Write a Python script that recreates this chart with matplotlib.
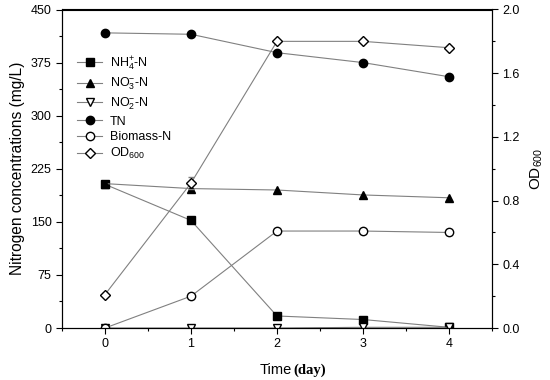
import matplotlib
matplotlib.use('Agg')
import matplotlib.pyplot as plt
from matplotlib.ticker import MultipleLocator
import numpy as np

plt.rcParams['font.family'] = ['Liberation Sans', 'DejaVu Sans']
plt.rcParams['mathtext.fontset'] = 'custom'
plt.rcParams['mathtext.rm'] = 'Liberation Sans'

# data
days = [0, 1, 2, 3, 4]
nh4 = [203, 152, 17, 12, 1]
no3 = [204, 197, 195, 188, 184]
no2 = [0, 0, 0, 1, 1]
tn = [417, 415, 389, 375, 355]
biomass = [0, 45, 137, 137, 135]
biomass_err = [2, 3, 3, 3, 3]
od600 = [0.21, 0.91, 1.80, 1.80, 1.76]
od600_err = [0.01, 0.04, 0.01, 0.01, 0.01]

line_kw = dict(color='#808080', linewidth=0.8, markeredgecolor='black', markersize=6)

fig = plt.figure(figsize=(5.5, 3.8), dpi=100)
ax = fig.add_axes([0.1127, 0.1368, 0.7818, 0.8382])
ax2 = ax.twinx()

h1, = ax.plot(days, nh4, marker='s', markerfacecolor='black', label=r'NH$_4^{+}$-N', **line_kw)
h2, = ax.plot(days, no3, marker='^', markerfacecolor='black', label=r'NO$_3^{-}$-N', **line_kw)
h3, = ax.plot(days, no2, marker='v', markerfacecolor='white', label=r'NO$_2^{-}$-N', **line_kw)
h4, = ax.plot(days, tn, marker='o', markerfacecolor='black', label='TN', **line_kw)
ax.errorbar(days, biomass, yerr=biomass_err, fmt='none', ecolor='#808080', elinewidth=0.7, capsize=2)
h5, = ax.plot(days, biomass, marker='o', markerfacecolor='white', label='Biomass-N', **line_kw)
ax2.errorbar(days, od600, yerr=od600_err, fmt='none', ecolor='#808080', elinewidth=0.7, capsize=2)
h6, = ax2.plot(days, od600, marker='D', markerfacecolor='white', label=r'OD$_{600}$',
               color='#808080', linewidth=0.8, markeredgecolor='black', markersize=5)

ax.set_xlim(-0.5, 4.5)
ax.set_ylim(0, 450)
ax2.set_ylim(0, 2.0)
ax.set_xticks(days)
ax.xaxis.set_minor_locator(MultipleLocator(0.5))
ax.yaxis.set_major_locator(MultipleLocator(75))
ax.yaxis.set_minor_locator(MultipleLocator(37.5))
ax2.yaxis.set_major_locator(MultipleLocator(0.4))
ax2.yaxis.set_minor_locator(MultipleLocator(0.2))
ax2.yaxis.set_major_formatter(matplotlib.ticker.FormatStrFormatter('%.1f'))

for a in (ax, ax2):
    a.tick_params(which='major', direction='out', length=4, width=0.8, labelsize=9)
    a.tick_params(which='minor', direction='out', length=2.5, width=0.8)

ax.set_ylabel('Nitrogen concentrations (mg/L)', fontsize=11.2)
ax2.set_ylabel(r'OD$_{600}$', fontsize=11, labelpad=6)

ax.text(0.535, -0.145, 'Time', transform=ax.transAxes, ha='right', va='baseline', fontsize=10.5)
ax.text(0.538, -0.145, '(day)', transform=ax.transAxes, ha='left', va='baseline', fontsize=10.5,
        family='Liberation Serif', fontweight='bold')

ax.legend(handles=[h1, h2, h3, h4, h5, h6], loc='upper left', bbox_to_anchor=(0.015, 0.888),
          frameon=False, fontsize=9, handlelength=2.0, handletextpad=0.6,
          labelspacing=0.27, borderaxespad=0.3)

fig.savefig('out.png', dpi=100)
